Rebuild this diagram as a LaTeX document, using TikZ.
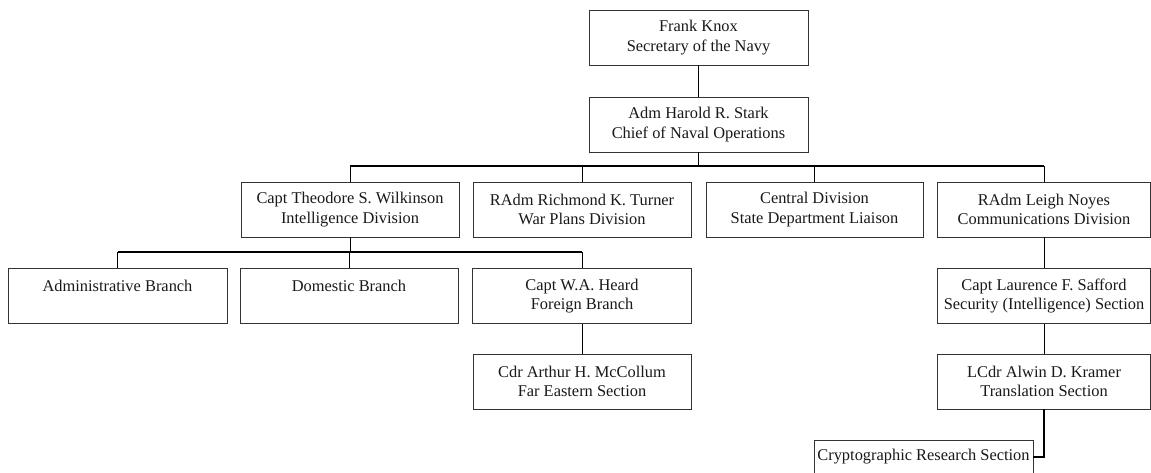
\documentclass[tikz,border=0pt]{standalone}
\usepackage{fontspec}
\setmainfont{Liberation Serif}
\begin{document}
\begin{tikzpicture}[x=1pt,y=-1pt,
  box/.style={draw=black!80, line width=0.9pt, fill=white, inner sep=0pt,
    align=center, text=black!90, font=\fontsize{16.4}{19.5}\selectfont,
    minimum height=55pt, minimum width=218pt},
  conn/.style={draw=black, line width=0.9pt},
  bar/.style={draw=black, line width=2pt}]
\useasboundingbox (0,0) rectangle (1151,472);
\clip (0,0) rectangle (1151,472);
% level 0/1
\node[box, minimum width=219pt] (knox) at (698.5,37.5) {Frank Knox\\Secretary of the Navy};
\node[box, minimum width=219pt] (stark) at (698.5,124.5) {Adm Harold R. Stark\\Chief of Naval Operations};
% level 2
\node[box] (wilk) at (350,209.5) {Capt Theodore S. Wilkinson\\Intelligence Division};
\node[box] (turner) at (582,209.5) {RAdm Richmond K. Turner\\War Plans Division};
\node[box, minimum width=217pt] (central) at (814.5,209.5) {Central Division\\State Department Liaison};
\node[box, minimum width=213pt] (noyes) at (1044,209.5) {RAdm Leigh Noyes\\Communications Division};
% level 3
\node[box, minimum width=219pt] (admin) at (117.5,296) {Administrative Branch\\\mbox{}};
\node[box] (domestic) at (349,296) {Domestic Branch\\\mbox{}};
\node[box, minimum width=219pt] (heard) at (582,296) {Capt W.A. Heard\\Foreign Branch};
\node[box, minimum width=213pt] (safford) at (1044,296) {Capt Laurence F. Safford\\Security (Intelligence) Section};
% level 4
\node[box] (mccollum) at (582,381.5) {Cdr Arthur H. McCollum\\Far Eastern Section};
\node[box, minimum width=213pt] (kramer) at (1044,381.5) {LCdr Alwin D. Kramer\\Translation Section};
% level 5
\node[box, minimum width=219pt, minimum height=34pt] (crypto) at (923.5,457) {Cryptographic Research Section};
% connectors
\coordinate (b1) at (698.5,166);
\coordinate (b2) at (350,252);
\draw[conn] (knox) -- (stark);
\draw[conn] (stark) -- (b1);
\draw[bar] (wilk.north |- b1) -- (noyes.north |- b1);
\draw[conn] (wilk.north |- b1) -- (wilk);
\draw[conn] (turner.north |- b1) -- (turner);
\draw[conn] (central.north |- b1) -- (central);
\draw[conn] (noyes.north |- b1) -- (noyes);
\draw[conn] (wilk) -- (b2);
\draw[bar] (admin.north |- b2) -- (heard.north |- b2);
\draw[conn] (admin.north |- b2) -- (admin);
\draw[conn] (domestic.north |- b2) -- (domestic);
\draw[conn] (heard.north |- b2) -- (heard);
\draw[conn] (heard) -- (mccollum);
\draw[conn] (noyes) -- (safford);
\draw[conn] (safford) -- (kramer);
\draw[bar] (kramer.south) |- (crypto.east);
\end{tikzpicture}
\end{document}
